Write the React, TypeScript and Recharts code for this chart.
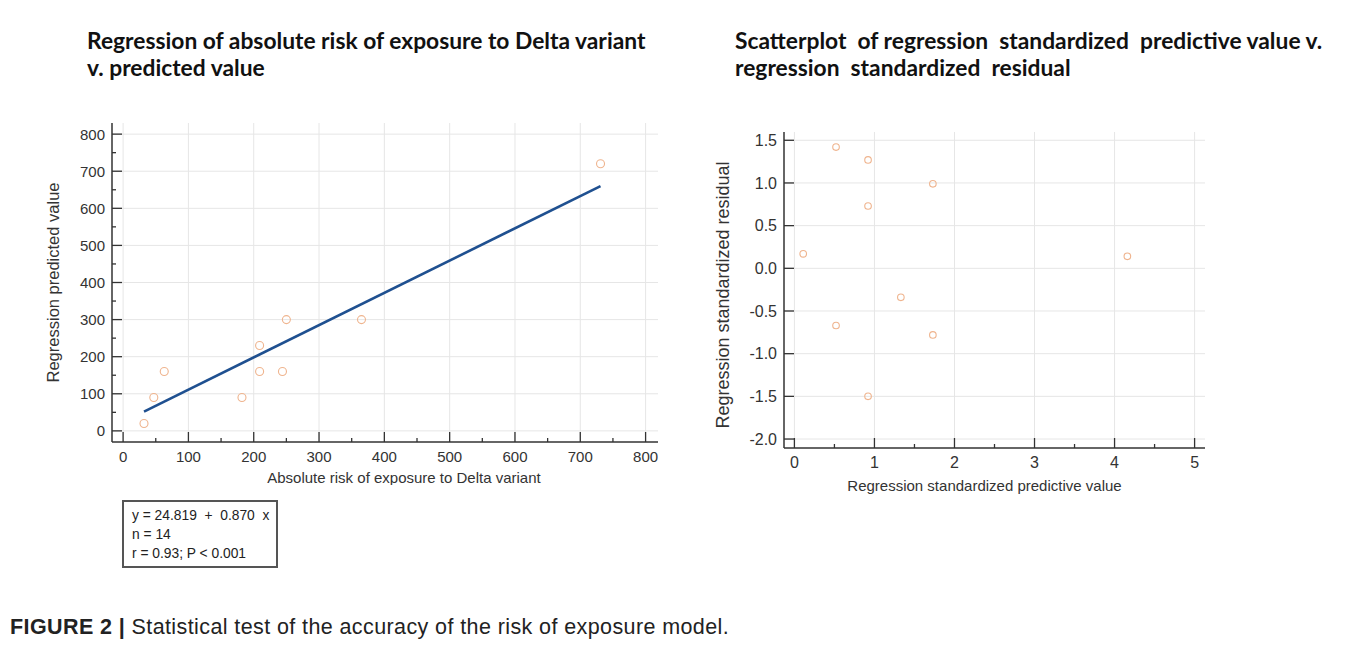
import React from 'react';
import { ScatterChart, Scatter, XAxis, YAxis, ReferenceLine } from 'recharts';

// ---------- Left panel data ----------
const leftRisk = [32, 47, 63, 182, 209, 209, 244, 250, 365, 731];
const leftPredicted = [20, 90, 160, 90, 230, 160, 160, 300, 300, 720];
const fitRisk = [32, 731];
const fitPredicted = [52, 660];
const leftXTicks = [0, 50, 100, 150, 200, 250, 300, 350, 400, 450, 500, 550, 600, 650, 700, 750, 800];
const leftYTicks = [0, 50, 100, 150, 200, 250, 300, 350, 400, 450, 500, 550, 600, 650, 700, 750, 800];
const leftMajor = [0, 100, 200, 300, 400, 500, 600, 700, 800];
const statLines = ['y = 24.819  +  0.870  x', 'n = 14', 'r = 0.93; P < 0.001'];

// ---------- Right panel data ----------
const rightPredictive = [0.52, 0.92, 1.73, 0.92, 0.11, 1.33, 0.52, 1.73, 0.92, 4.16];
const rightResidual = [1.42, 1.27, 0.99, 0.73, 0.17, -0.34, -0.67, -0.78, -1.5, 0.14];
const rightXTicks = [0, 0.5, 1, 1.5, 2, 2.5, 3, 3.5, 4, 4.5, 5];
const rightXMajor = [0, 1, 2, 3, 4, 5];
const rightYTicks = [-2.0, -1.5, -1.0, -0.5, 0.0, 0.5, 1.0, 1.5];

const leftData = leftRisk.map((x, i) => ({ x, y: leftPredicted[i] }));
const rightData = rightPredictive.map((x, i) => ({ x, y: rightResidual[i] }));

const AXIS = '#333';
const GRID = '#e6e6e6';
const DOT = '#efb48e';
const FONT = '"Liberation Sans", Arial, sans-serif';

const makeXTick = (majors: number[], fmt: (v: number) => string, fs: number) => (p: any) => {
  const { x, y, payload } = p;
  const v = payload.value;
  const major = majors.includes(v);
  return (
    <g>
      <line x1={x} y1={y} x2={x} y2={y - (major ? 10 : 4)} stroke={AXIS} strokeWidth={1.3} />
      {major && (
        <text x={x} y={y + 20} textAnchor="middle" fontSize={fs} fill="#333" fontFamily={FONT}>
          {fmt(v)}
        </text>
      )}
    </g>
  );
};

const makeYTick = (majors: number[] | null, fmt: (v: number) => string, fs: number) => (p: any) => {
  const { x, y, payload } = p;
  const v = payload.value;
  const major = majors ? majors.includes(v) : true;
  return (
    <g>
      <line x1={x} y1={y} x2={x + (major ? 10 : 4)} y2={y} stroke={AXIS} strokeWidth={1.3} />
      {major && (
        <text x={x - 7} y={y} dy="0.36em" textAnchor="end" fontSize={fs} fill="#333" fontFamily={FONT}>
          {fmt(v)}
        </text>
      )}
    </g>
  );
};

const ringShape = (r: number, color: string) => (p: any) => (
  <circle cx={p.cx} cy={p.cy} r={r} fill="none" stroke={color} strokeWidth={1.1} />
);

const yLabel = (text: string, dx: number, fs: number, dyc = 0) => (p: any) => {
  const vb = p.viewBox;
  const cx = vb.x + dx;
  const cy = vb.y + vb.height / 2 + dyc;
  return (
    <text x={cx} y={cy} transform={`rotate(-90 ${cx} ${cy})`} textAnchor="middle" dy="0.36em" fontSize={fs} fill="#333" fontFamily={FONT}>
      {text}
    </text>
  );
};

const xLabel = (text: string, dy: number, fs: number, dxc = 0) => (p: any) => {
  const vb = p.viewBox;
  return (
    <text x={vb.x + vb.width / 2 + dxc} y={vb.y + dy} textAnchor="middle" fontSize={fs} fill="#333" fontFamily={FONT}>
      {text}
    </text>
  );
};

const titleStyle: React.CSSProperties = {
  position: 'absolute',
  top: 19,
  fontFamily: 'Lato, "Open Sans", sans-serif',
  fontWeight: 700,
  fontSize: 22.8,
  lineHeight: '27px',
  color: '#111',
  whiteSpace: 'pre',
};

export default function App() {
  return (
    <div style={{ position: 'relative', width: 1347, height: 640, fontFamily: FONT, background: '#fff' }}>
      {/* frame */}
      <div style={{ position: 'absolute', left: -3, top: -2, width: 1350, height: 0, borderTop: '2px solid #666' }} />
      <div style={{ position: 'absolute', left: -3, top: -2, width: 0, height: 634, borderLeft: '2px solid #666' }} />

      {/* titles */}
      <div style={{ ...titleStyle, left: 79 }}>
        {'Regression of absolute risk of exposure to Delta variant\nv. predicted value'}
      </div>
      <div style={{ ...titleStyle, left: 727 }}>
        {'Scatterplot  of regression  standardized  predictive value v.\nregression  standardized  residual'}
      </div>

      {/* left chart */}
      <div style={{ position: 'absolute', left: 12, top: 107 }}>
        <ScatterChart width={660} height={370} margin={{ top: 8, right: 22, bottom: 0, left: 0 }}>
          <XAxis
            type="number"
            dataKey="x"
            domain={[-17, 819]}
            ticks={leftXTicks}
            interval={0}
            tickSize={0}
            tickMargin={0}
            tickLine={false}
            height={43}
            axisLine={{ stroke: AXIS, strokeWidth: 1.5 }}
            tick={makeXTick(leftMajor, (v) => String(v), 15)}
            allowDataOverflow
            label={{ content: xLabel('Absolute risk of exposure to Delta variant', 41, 15, 19) }}
          />
          <YAxis
            type="number"
            dataKey="y"
            domain={[-30, 830]}
            ticks={leftYTicks}
            interval={0}
            tickSize={0}
            tickMargin={0}
            tickLine={false}
            width={92}
            axisLine={{ stroke: AXIS, strokeWidth: 1.5 }}
            tick={makeYTick(leftMajor, (v) => String(v), 15)}
            allowDataOverflow
            label={{ content: yLabel('Regression predicted value', 33, 16.5) }}
          />
          {leftMajor.map((v) => (
            <ReferenceLine key={'lx' + v} x={v} stroke={GRID} strokeWidth={1} />
          ))}
          {leftMajor.map((v) => (
            <ReferenceLine key={'ly' + v} y={v} stroke={GRID} strokeWidth={1} />
          ))}
          <ReferenceLine
            segment={[
              { x: fitRisk[0], y: fitPredicted[0] },
              { x: fitRisk[1], y: fitPredicted[1] },
            ]}
            stroke="#1f5090"
            strokeWidth={2.6}
          />
          <Scatter data={leftData} isAnimationActive={false} shape={ringShape(4, DOT)} />
        </ScatterChart>
      </div>

      {/* stat box */}
      <div
        style={{
          position: 'absolute',
          left: 114,
          top: 492,
          width: 144,
          height: 60,
          border: '2px solid #555',
          padding: '4px 0 0 8px',
          boxSizing: 'content-box',
          fontSize: 13.8,
          lineHeight: '19px',
          color: '#222',
          whiteSpace: 'pre',
        }}
      >
        {statLines.join('\n')}
      </div>

      {/* right chart */}
      <div style={{ position: 'absolute', left: 692, top: 112 }}>
        <ScatterChart width={520} height={385} margin={{ top: 12, right: 15, bottom: 0, left: 0 }}>
          <XAxis
            type="number"
            dataKey="x"
            domain={[-0.13, 5.13]}
            ticks={rightXTicks}
            interval={0}
            tickSize={0}
            tickMargin={0}
            tickLine={false}
            height={57}
            axisLine={{ stroke: AXIS, strokeWidth: 1.5 }}
            tick={makeXTick(rightXMajor, (v) => String(v), 16)}
            allowDataOverflow
            label={{ content: xLabel('Regression standardized predictive value', 43, 15, -10) }}
          />
          <YAxis
            type="number"
            dataKey="y"
            domain={[-2.105, 1.597]}
            ticks={rightYTicks}
            interval={0}
            tickSize={0}
            tickMargin={0}
            tickLine={false}
            width={84}
            axisLine={{ stroke: AXIS, strokeWidth: 1.5 }}
            tick={makeYTick(null, (v) => v.toFixed(1), 16)}
            allowDataOverflow
            label={{ content: yLabel('Regression standardized residual', 23, 18, 5) }}
          />
          {rightXMajor.map((v) => (
            <ReferenceLine key={'rx' + v} x={v} stroke={GRID} strokeWidth={1} />
          ))}
          {rightYTicks.map((v) => (
            <ReferenceLine key={'ry' + v} y={v} stroke={GRID} strokeWidth={1} />
          ))}
          <Scatter data={rightData} isAnimationActive={false} shape={ringShape(3.3, DOT)} />
        </ScatterChart>
      </div>

      {/* caption */}
      <div style={{ position: 'absolute', left: 2, top: 607, fontSize: 21.5, letterSpacing: '0.4px', color: '#222', whiteSpace: 'nowrap', fontFamily: FONT }}>
        <b>FIGURE 2 |</b> Statistical test of the accuracy of the risk of exposure model.
      </div>
    </div>
  );
}
